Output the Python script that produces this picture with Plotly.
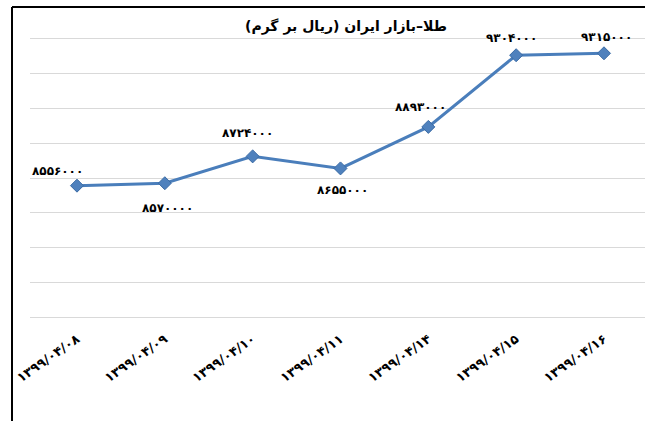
import plotly.graph_objects as go

dates = ["۱۳۹۹/۰۴/۰۸", "۱۳۹۹/۰۴/۰۹", "۱۳۹۹/۰۴/۱۰", "۱۳۹۹/۰۴/۱۱",
         "۱۳۹۹/۰۴/۱۴", "۱۳۹۹/۰۴/۱۵", "۱۳۹۹/۰۴/۱۶"]
prices = [8556000, 8570000, 8724000, 8655000, 8893000, 9304000, 9315000]
price_labels = ["۸۵۵۶۰۰۰", "۸۵۷۰۰۰۰", "۸۷۲۴۰۰۰", "۸۶۵۵۰۰۰",
                "۸۸۹۳۰۰۰", "۹۳۰۴۰۰۰", "۹۳۱۵۰۰۰"]
title_text = "طلا–بازار ایران (ریال بر گرم)"

# label pixel offsets (style only)
label_dx = [-19, 3, -5, 2, -8, -5, 3]
label_dy = [15, -25, 23, -22, 20, 17, 16]

W, H = 645, 421
ML, MR, MT, MB = 30, 0, 35, 100
pw = W - ML - MR
ph = H - MT - MB

FONT = "DejaVu Sans"
BLUE = "#4A7EBB"

fig = go.Figure()
fig.add_trace(go.Scatter(
    x=list(range(len(dates))), y=prices, mode="lines+markers",
    line=dict(color=BLUE, width=3),
    marker=dict(symbol="diamond", size=10, color="#4F81BD",
                line=dict(color="#3A6BA5", width=1)),
    hoverinfo="skip", showlegend=False,
))

for i, (v, lab) in enumerate(zip(prices, price_labels)):
    fig.add_annotation(x=i, y=v, text="<b>" + lab + "</b>", showarrow=False,
                       xanchor="center", yanchor="middle",
                       xshift=label_dx[i], yshift=label_dy[i],
                       font=dict(family=FONT, size=12, color="black"))

fig.add_annotation(x=(346 - ML) / pw, y=1 + (MT - 26) / ph, xref="paper", yref="paper",
                   xanchor="center", yanchor="middle",
                   text="<b>" + title_text + "</b>", showarrow=False,
                   font=dict(family=FONT, size=14, color="black"))

# frame lines (left and top)
bx = (12 - ML) / pw
by = 1 + (MT - 7) / ph
fig.add_shape(type="line", xref="paper", yref="paper", x0=bx, x1=bx, y0=by, y1=-MB / ph - 0.05,
              line=dict(color="black", width=2))
fig.add_shape(type="line", xref="paper", yref="paper", x0=bx, x1=1 + 0.05, y0=by, y1=by,
              line=dict(color="black", width=2))

fig.update_layout(
    width=W, height=H,
    margin=dict(l=ML, r=MR, t=MT, b=MB, autoexpand=False),
    paper_bgcolor="white", plot_bgcolor="white",
    xaxis=dict(range=[-0.535, 6.467], tickmode="array",
               tickvals=list(range(len(dates))),
               ticktext=["<b>" + d + "</b>" for d in dates],
               tickangle=-35, showgrid=False, zeroline=False,
               showline=False,
               ticks="", ticklabelstandoff=7,
               tickfont=dict(family=FONT, size=13, color="black")),
    yaxis=dict(range=[7780000, 9420000], tick0=7800000, dtick=200000,
               showticklabels=False, showgrid=True, gridcolor="#d9d9d9",
               gridwidth=1, zeroline=False, showline=False, ticks=""),
)

fig.write_html("out.html", config={"displayModeBar": False},
               post_script="document.body.style.margin='0';document.body.style.overflow='hidden';")
